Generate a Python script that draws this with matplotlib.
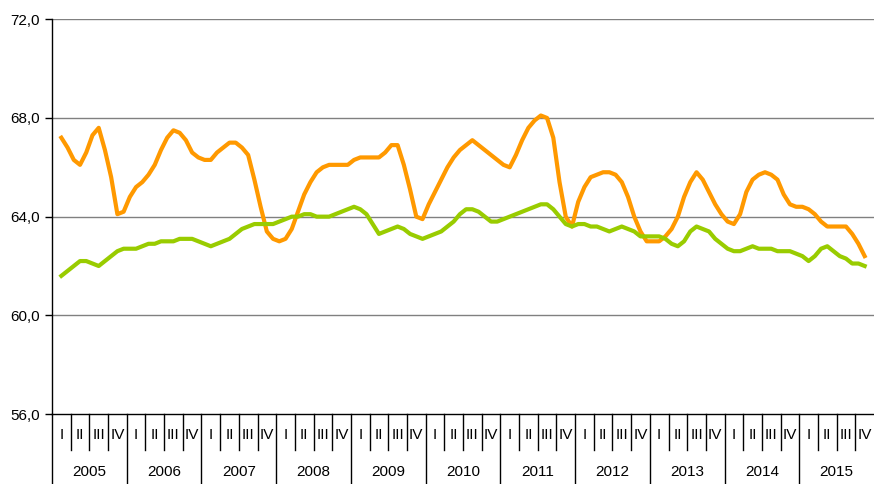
import numpy as np
import matplotlib.pyplot as plt
import matplotlib.transforms as mtransforms

plt.rcParams['font.family'] = ['Liberation Sans', 'DejaVu Sans']

years = ['2005', '2006', '2007', '2008', '2009', '2010', '2011', '2012', '2013', '2014', '2015']
quarters = ['I', 'II', 'III', 'IV']

# moving 3-month averages, Feb 2005 .. Nov 2015
orange = [67.2, 66.8, 66.3, 66.1, 66.6, 67.3, 67.6, 66.7, 65.6, 64.1, 64.2,
          64.8, 65.2, 65.4, 65.7, 66.1, 66.7, 67.2, 67.5, 67.4, 67.1, 66.6, 66.4,
          66.3, 66.3, 66.6, 66.8, 67.0, 67.0, 66.8, 66.5, 65.5, 64.4, 63.4, 63.1,
          63.0, 63.1, 63.5, 64.2, 64.9, 65.4, 65.8, 66.0, 66.1, 66.1, 66.1, 66.1,
          66.3, 66.4, 66.4, 66.4, 66.4, 66.6, 66.9, 66.9, 66.1, 65.1, 64.0, 63.9,
          64.5, 65.0, 65.5, 66.0, 66.4, 66.7, 66.9, 67.1, 66.9, 66.7, 66.5, 66.3,
          66.1, 66.0, 66.5, 67.1, 67.6, 67.9, 68.1, 68.0, 67.2, 65.4, 64.0, 63.6,
          64.6, 65.2, 65.6, 65.7, 65.8, 65.8, 65.7, 65.4, 64.8, 64.0, 63.4, 63.0,
          63.0, 63.0, 63.2, 63.5, 64.0, 64.8, 65.4, 65.8, 65.5, 65.0, 64.5, 64.1,
          63.8, 63.7, 64.1, 65.0, 65.5, 65.7, 65.8, 65.7, 65.5, 64.9, 64.5, 64.4,
          64.4, 64.3, 64.1, 63.8, 63.6, 63.6, 63.6, 63.6, 63.3, 62.9, 62.4]
green = [61.6, 61.8, 62.0, 62.2, 62.2, 62.1, 62.0, 62.2, 62.4, 62.6, 62.7,
         62.7, 62.7, 62.8, 62.9, 62.9, 63.0, 63.0, 63.0, 63.1, 63.1, 63.1, 63.0,
         62.9, 62.8, 62.9, 63.0, 63.1, 63.3, 63.5, 63.6, 63.7, 63.7, 63.7, 63.7,
         63.8, 63.9, 64.0, 64.0, 64.1, 64.1, 64.0, 64.0, 64.0, 64.1, 64.2, 64.3,
         64.4, 64.3, 64.1, 63.7, 63.3, 63.4, 63.5, 63.6, 63.5, 63.3, 63.2, 63.1,
         63.2, 63.3, 63.4, 63.6, 63.8, 64.1, 64.3, 64.3, 64.2, 64.0, 63.8, 63.8,
         63.9, 64.0, 64.1, 64.2, 64.3, 64.4, 64.5, 64.5, 64.3, 64.0, 63.7, 63.6,
         63.7, 63.7, 63.6, 63.6, 63.5, 63.4, 63.5, 63.6, 63.5, 63.4, 63.2, 63.2,
         63.2, 63.2, 63.1, 62.9, 62.8, 63.0, 63.4, 63.6, 63.5, 63.4, 63.1, 62.9,
         62.7, 62.6, 62.6, 62.7, 62.8, 62.7, 62.7, 62.7, 62.6, 62.6, 62.6, 62.5,
         62.4, 62.2, 62.4, 62.7, 62.8, 62.6, 62.4, 62.3, 62.1, 62.1, 62.0]

yticks = [56, 60, 64, 68, 72]

n_months = len(years) * 12
x = np.arange(1, len(orange) + 1) + 0.5

fig = plt.figure(figsize=(8.74, 4.84), dpi=100)
ax = fig.add_axes([52 / 874, 1 - 414 / 484, 822 / 874, (414 - 19.3) / 484])

for v in yticks[1:]:
    ax.axhline(v, color='#808080', lw=1.0, zorder=1)

ax.plot(x, orange, color='#FF9900', lw=3.0, solid_joinstyle='round', zorder=3)
ax.plot(x, green, color='#99CC00', lw=3.0, solid_joinstyle='round', zorder=3)

ax.set_xlim(0, n_months)
ax.set_ylim(56, 72)
ax.set_yticks(yticks)
ax.set_yticklabels([f'{v:.1f}'.replace('.', ',') for v in yticks], fontsize=11)
ax.tick_params(axis='y', length=5, width=1, pad=4)
ax.set_xticks([])
for s in ['top', 'right']:
    ax.spines[s].set_visible(False)
ax.spines['left'].set_bounds(56, 72)
ax.spines['bottom'].set_linewidth(1.0)
ax.spines['left'].set_linewidth(1.0)

trans = mtransforms.blended_transform_factory(ax.transData, ax.transAxes)
h = 414 - 19.3
for q in range(len(years) * 4):
    xq = q * 3
    if q % 4 == 0:
        ax.plot([xq, xq], [0, -70 / h], color='black', lw=1.0, transform=trans, clip_on=False)
    else:
        ax.plot([xq, xq], [0, -36 / h], color='black', lw=1.0, transform=trans, clip_on=False)
    ax.text(xq + 1.5, -21 / h, quarters[q % 4], transform=trans, ha='center', va='center',
            fontsize=11)
for i, yr in enumerate(years):
    ax.text(i * 12 + 6, -58 / h, yr, transform=trans, ha='center', va='center', fontsize=11)

fig.savefig('out.png', dpi=100)
